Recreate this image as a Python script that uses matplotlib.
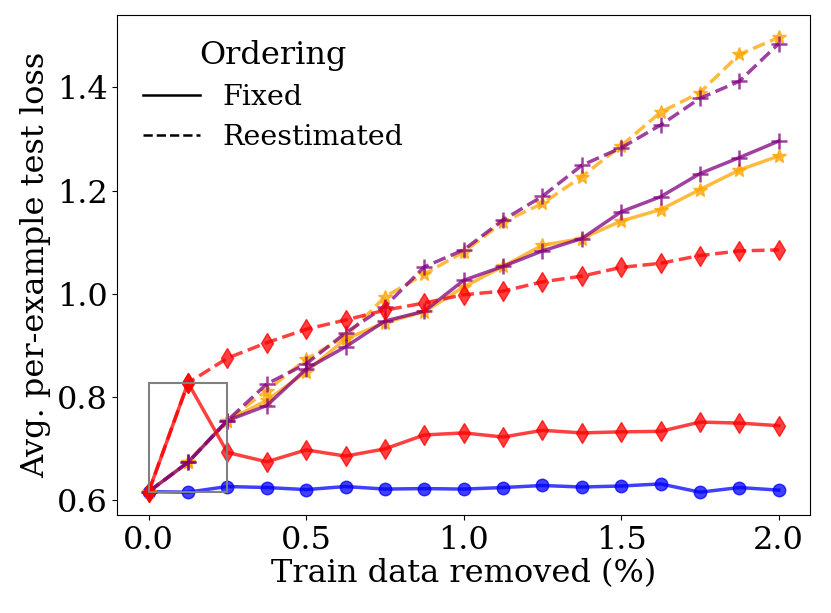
import numpy as np
import matplotlib
matplotlib.use('Agg')
import matplotlib.pyplot as plt
from matplotlib.patches import Rectangle
from matplotlib.lines import Line2D

plt.rcParams['font.family'] = 'DejaVu Serif'
plt.rcParams['font.size'] = 23

# % of train data removed
removed = np.arange(17) * 0.125

blue_fixed = [0.616, 0.615, 0.626, 0.624, 0.620, 0.626, 0.621, 0.622, 0.621,
              0.624, 0.628, 0.625, 0.627, 0.631, 0.615, 0.624, 0.619]
red_fixed = [0.616, 0.827, 0.692, 0.674, 0.697, 0.685, 0.699, 0.726, 0.730,
             0.722, 0.735, 0.730, 0.732, 0.733, 0.751, 0.749, 0.744]
red_reest = [0.616, 0.827, 0.875, 0.905, 0.931, 0.949, 0.968, 0.982, 0.998,
             1.005, 1.023, 1.034, 1.051, 1.059, 1.074, 1.083, 1.085]
orange_fixed = [0.616, 0.673, 0.754, 0.793, 0.849, 0.912, 0.944, 0.965, 1.013,
                1.053, 1.094, 1.107, 1.141, 1.163, 1.202, 1.240, 1.267]
orange_reest = [0.616, 0.673, 0.754, 0.812, 0.873, 0.917, 0.994, 1.038, 1.081,
                1.139, 1.175, 1.227, 1.287, 1.352, 1.390, 1.464, 1.497]
purple_fixed = [0.616, 0.673, 0.754, 0.783, 0.854, 0.897, 0.947, 0.966, 1.026,
                1.053, 1.083, 1.107, 1.159, 1.188, 1.233, 1.264, 1.296]
purple_reest = [0.616, 0.673, 0.754, 0.825, 0.864, 0.924, 0.975, 1.052, 1.085,
                1.143, 1.189, 1.249, 1.283, 1.327, 1.379, 1.412, 1.485]

fig = plt.figure(figsize=(8.31, 6.13), dpi=100)
ax = fig.add_axes([0.141, 0.16, 0.834, 0.816])

lw = 2.5
a = 0.75
ax.plot(removed, blue_fixed, '-', color='blue', marker='o', ms=9, lw=lw, alpha=a)
ax.plot(removed, orange_fixed, '-', color='orange', marker='*', ms=10, lw=lw, alpha=a)
ax.plot(removed, orange_reest, '--', color='orange', marker='*', ms=10, lw=lw, alpha=a)
ax.plot(removed, purple_fixed, '-', color='purple', marker='+', ms=11, mew=1.8, lw=lw, alpha=a)
ax.plot(removed, purple_reest, '--', color='purple', marker='+', ms=11, mew=1.8, lw=lw, alpha=a)
ax.plot(removed, red_reest, '--', color='red', marker='d', ms=10, lw=lw, alpha=a)
ax.plot(removed, red_fixed, '-', color='red', marker='d', ms=10, lw=lw, alpha=a)

# zoom box around the first three points
x0, x1 = removed[0], removed[2]
y0 = min(min(s[:3]) for s in [blue_fixed, red_fixed])
y1 = max(red_fixed[:3])
ax.add_patch(Rectangle((x0, y0), x1 - x0, y1 - y0, fill=False,
                       edgecolor='gray', lw=1.5, zorder=5))

ax.set_xticks([0.0, 0.5, 1.0, 1.5, 2.0])
ax.set_yticks([0.6, 0.8, 1.0, 1.2, 1.4])
ax.set_xlabel("Train data removed (%)", labelpad=2)
ax.set_ylabel("Avg. per-example test loss")

handles = [Line2D([], [], color='black', ls='-', lw=1.8),
           Line2D([], [], color='black', ls='--', lw=1.8)]
ax.legend(handles, ['Fixed', 'Reestimated'], title='Ordering', loc='upper left',
          frameon=False, fontsize=20.5, title_fontsize=23, handlelength=2.0,
          labelspacing=0.45)

fig.savefig('out.png', dpi=100)
